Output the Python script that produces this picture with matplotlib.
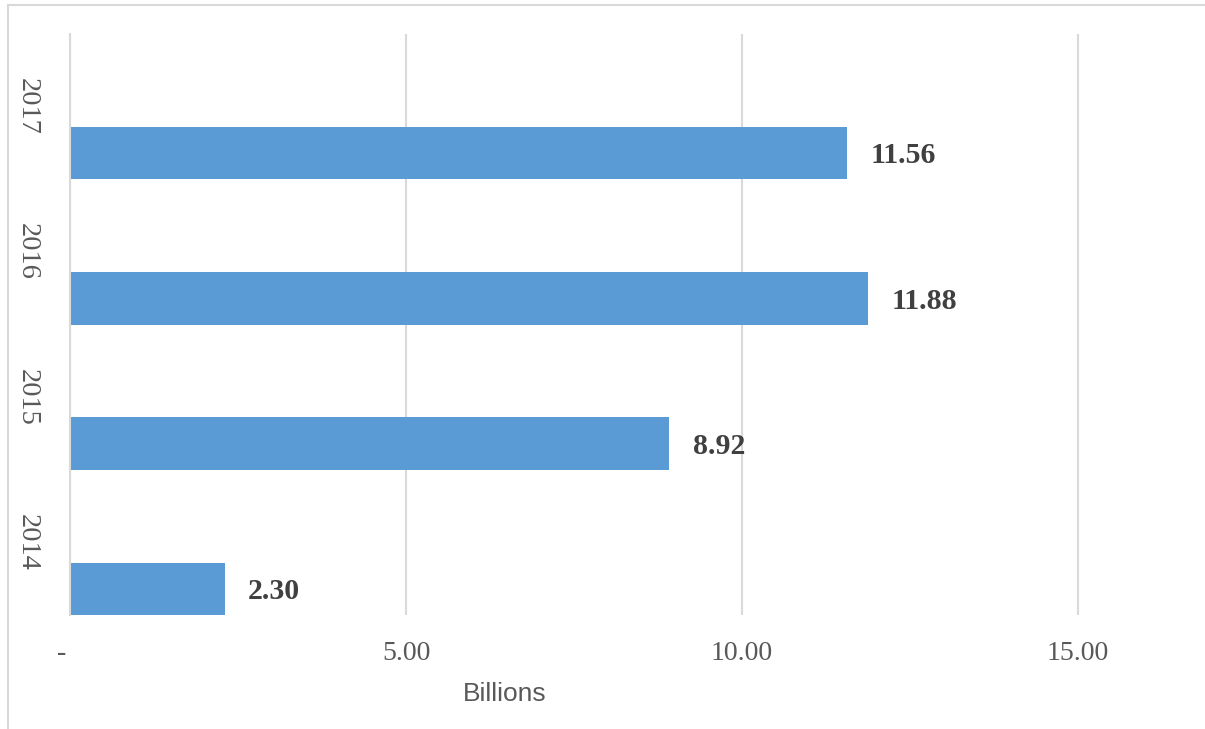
import matplotlib.pyplot as plt
import matplotlib.transforms as mtransforms
import numpy as np

years = ["2014", "2015", "2016", "2017"]
values = [2.30, 8.92, 11.88, 11.56]
xticks = [0, 5, 10, 15]
xticklabels = ["-", "5.00", "10.00", "15.00"]

bar_color = "#5B9BD5"
grid_color = "#D9D9D9"
tick_color = "#595959"

fig = plt.figure(figsize=(12.05, 7.29), dpi=100)
ax = fig.add_axes([70 / 1205, 1 - 615 / 729, (1200 - 70) / 1205, (615 - 34) / 729])

pos = np.arange(len(years))
bar_h = 0.36
# bars sit in the lower part of each category band (empty second series in the source)
ax.barh(pos, values, height=bar_h, align="edge", color=bar_color, zorder=3)

for y, v in zip(pos, values):
    ax.annotate(f"{v:.2f}", xy=(v, y + bar_h / 2), xytext=(17, -2),
                textcoords="offset points", va="center", ha="left",
                fontsize=21.5, fontweight="bold", family="Liberation Serif",
                color="#404040")

ax.set_ylim(0, len(years))
ax.set_yticks(pos + 0.5)
ax.set_yticklabels(years, rotation=-90, va="center", ha="center",
                   family="Liberation Serif", fontsize=20.5, color=tick_color)
ax.tick_params(axis="y", length=0, pad=31)

ax.set_xlim(0, (1200 - 70) / 67.2)
ax.set_xticks(xticks)
ax.set_xticklabels(xticklabels, family="Liberation Serif", fontsize=20, color=tick_color)
ax.tick_params(axis="x", length=0, pad=19)
# the "-" for zero sits a little left of the axis in the source
dash = ax.get_xticklabels()[0]
dash.set_transform(dash.get_transform() + mtransforms.ScaledTranslation(-8 / 100, 0, fig.dpi_scale_trans))
ax.xaxis.grid(True, color=grid_color, linewidth=1.5, zorder=0)

for s in ["top", "right", "bottom"]:
    ax.spines[s].set_visible(False)
ax.spines["left"].set_color(grid_color)
ax.spines["left"].set_linewidth(1.5)
ax.spines["left"].set_zorder(4)

fig.text(505 / 1205, 1 - 694 / 729, "Billions", ha="center", va="center",
         family="Liberation Sans", fontsize=19, color=tick_color)

# chart border (top and left edges visible in the source image)
fig.add_artist(plt.Line2D([8 / 1205, 8 / 1205], [0, 1 - 5 / 729], color=grid_color, linewidth=1.5))
fig.add_artist(plt.Line2D([8 / 1205, 1], [1 - 5 / 729, 1 - 5 / 729], color=grid_color, linewidth=1.5))

fig.savefig("out.png", dpi=100)
